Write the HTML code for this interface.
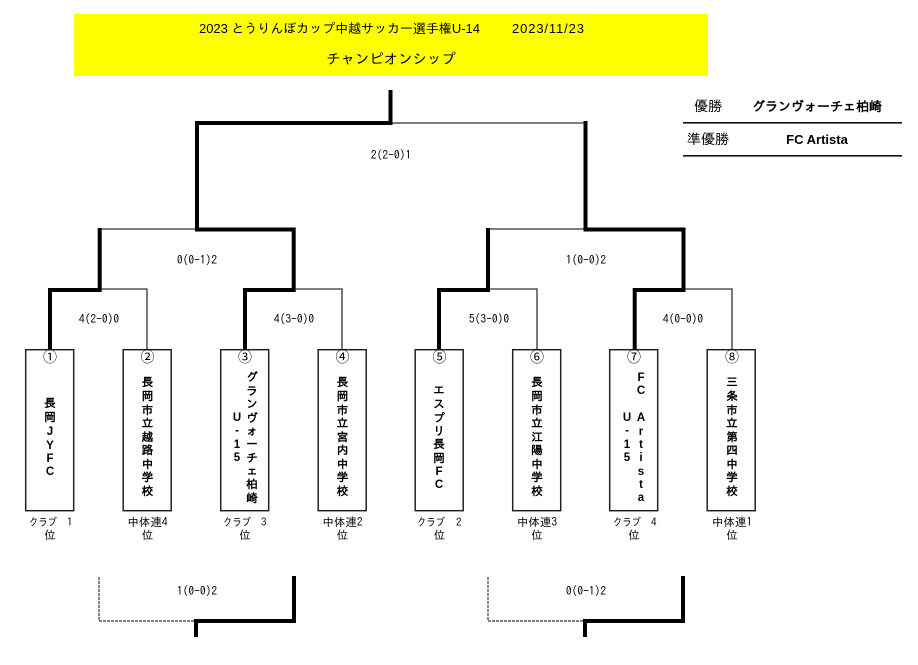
<!DOCTYPE html>
<html lang="ja"><head><meta charset="utf-8"><title>チャンピオンシップ</title>
<style>
html,body{margin:0;padding:0;background:#fff}
svg{display:block}
text{font-family:"Liberation Sans","IPAGothic","Noto Sans CJK JP",sans-serif;fill:#000}
.s{font-size:11.5px;text-anchor:middle;font-family:"IPAGothic","Liberation Sans",sans-serif}
.q{font-size:11px;font-family:"IPAGothic","Liberation Sans",sans-serif}
.v{font-size:11.5px;font-weight:bold;text-anchor:middle}
.c{font-size:14px;text-anchor:middle;font-family:"Noto Sans CJK JP",sans-serif}
.t{fill:none;stroke:#333;stroke-width:1.3}
.k{fill:none;stroke:#000;stroke-width:4;stroke-linecap:square;stroke-linejoin:miter}
.b{fill:#fff;stroke:#222;stroke-width:1.5}
.d{fill:none;stroke:#555;stroke-width:1.4;stroke-dasharray:3 1}
</style></head><body>
<svg width="918" height="665" viewBox="0 0 918 665" xmlns="http://www.w3.org/2000/svg">
<rect x="74" y="14" width="634" height="62" fill="#ffff00"/>
<text x="199" y="33" font-size="13" textLength="281" lengthAdjust="spacing">2023 とうりんぼカップ中越サッカー選手権U-14</text>
<text x="512" y="33" font-size="13" textLength="72" lengthAdjust="spacing">2023/11/23</text>
<text x="391" y="64" font-size="14.4" text-anchor="middle">チャンピオンシップ</text>

<!-- result table -->
<text x="708" y="111" font-size="14" text-anchor="middle">優勝</text>
<text x="817" y="111" font-size="13" font-weight="bold" text-anchor="middle">グランヴォーチェ柏崎</text>
<text x="708" y="144" font-size="14" text-anchor="middle">準優勝</text>
<text x="817" y="144" font-size="13" font-weight="bold" text-anchor="middle">FC Artista</text>
<rect x="683" y="122" width="219" height="1.6" fill="#111"/>
<rect x="683" y="155" width="219" height="1.6" fill="#111"/>

<!-- thin connectors -->
<path class="t" d="M390 123H585M99 229H195M488 229H585M99 289H147V349M294 289H342V349M488 289H537V349M683 289H732V349"/>
<!-- thick connectors -->
<path class="k" d="M390.500 92V123H197V229M585.500 123V229M197 229.500H293.700V290H245V347M99.700 230V290H50V347M585.500 229.500H683.500V290H634.700V347M488 230V290H439V347"/>

<!-- score labels -->
<text class="s" x="391" y="159">2(2-0)1</text>
<text class="s" x="197" y="264">0(0-1)2</text>
<text class="s" x="586" y="264">1(0-0)2</text>
<text class="s" x="99" y="323">4(2-0)0</text>
<text class="s" x="294" y="323">4(3-0)0</text>
<text class="s" x="489" y="323">5(3-0)0</text>
<text class="s" x="683" y="323">4(0-0)0</text>
<text class="s" x="197" y="595">1(0-0)2</text>
<text class="s" x="586" y="595">0(0-1)2</text>

<!-- boxes -->
<rect class="b" x="25.700" y="349.700" width="48" height="161"/>
<rect class="b" x="123.200" y="349.700" width="48" height="161"/>
<rect class="b" x="220.700" y="349.700" width="48" height="161"/>
<rect class="b" x="318.200" y="349.700" width="48" height="161"/>
<rect class="b" x="415.200" y="349.700" width="48" height="161"/>
<rect class="b" x="512.700" y="349.700" width="48" height="161"/>
<rect class="b" x="609.700" y="349.700" width="48" height="161"/>
<rect class="b" x="707.200" y="349.700" width="48" height="161"/>

<!-- circled numbers -->
<text class="c" x="50" y="362">①</text>
<text class="c" x="147.500" y="362">②</text>
<text class="c" x="245" y="362">③</text>
<text class="c" x="342.500" y="362">④</text>
<text class="c" x="439.500" y="362">⑤</text>
<text class="c" x="537" y="362">⑥</text>
<text class="c" x="634" y="362">⑦</text>
<text class="c" x="732" y="362">⑧</text>

<!-- team names -->
<text class="v" x="50 50 50 50 50 50" y="407 421 435 449 462 475">長岡JYFC</text>
<text class="v" x="147.500 147.500 147.500 147.500 147.500 147.500 147.500 147.500 147.500" y="386 400 414 427 441 454 468 481 495">長岡市立越路中学校</text>
<text class="v" x="252 252 252 252 252 252 252 252 252 252" y="381 395 408 422 435 448 462 475 488 502">グランヴォーチェ柏崎</text>
<text class="v" x="237 237 237 237" y="421 434 448 461">U-15</text>
<text class="v" x="342.500 342.500 342.500 342.500 342.500 342.500 342.500 342.500 342.500" y="386 400 414 427 441 454 468 481 495">長岡市立宮内中学校</text>
<text class="v" x="439 439 439 439 439 439 439 439" y="394 408 422 435 448 462 475 488">エスプリ長岡FC</text>
<text class="v" x="537 537 537 537 537 537 537 537 537" y="386 400 414 427 441 454 468 481 495">長岡市立江陽中学校</text>
<text class="v" x="641 641" y="381 394">FC</text>
<text class="v" x="641 641 641 641 641 641 641" y="421 435 448 461 475 488 501">Artista</text>
<text class="v" x="627 627 627 627" y="421 434 448 461">U-15</text>
<text class="v" x="732 732 732 732 732 732 732 732 732" y="386 400 414 427 441 454 468 481 495">三条市立第四中学校</text>

<!-- seed labels -->
<text class="q" x="29" y="526" textLength="28" lengthAdjust="spacingAndGlyphs">クラブ</text><text class="q" x="67" y="526">1</text><text class="s" x="50" y="539">位</text>
<text class="s" x="147.500" y="526">中体連4</text><text class="s" x="147.500" y="539">位</text>
<text class="q" x="223" y="526" textLength="28" lengthAdjust="spacingAndGlyphs">クラブ</text><text class="q" x="261" y="526">3</text><text class="s" x="245" y="539">位</text>
<text class="s" x="342.500" y="526">中体連2</text><text class="s" x="342.500" y="539">位</text>
<text class="q" x="417" y="526" textLength="28" lengthAdjust="spacingAndGlyphs">クラブ</text><text class="q" x="456" y="526">2</text><text class="s" x="439.500" y="539">位</text>
<text class="s" x="537" y="526">中体連3</text><text class="s" x="537" y="539">位</text>
<text class="q" x="613" y="526" textLength="28" lengthAdjust="spacingAndGlyphs">クラブ</text><text class="q" x="651" y="526">4</text><text class="s" x="634" y="539">位</text>
<text class="s" x="732" y="526">中体連1</text><text class="s" x="732" y="539">位</text>

<!-- third place brackets -->
<path class="d" d="M99 577V621H195M488 577V621H584"/>
<path class="k" d="M294 578V621H196V635M683 578V621H585V635"/>
</svg>
</body></html>
